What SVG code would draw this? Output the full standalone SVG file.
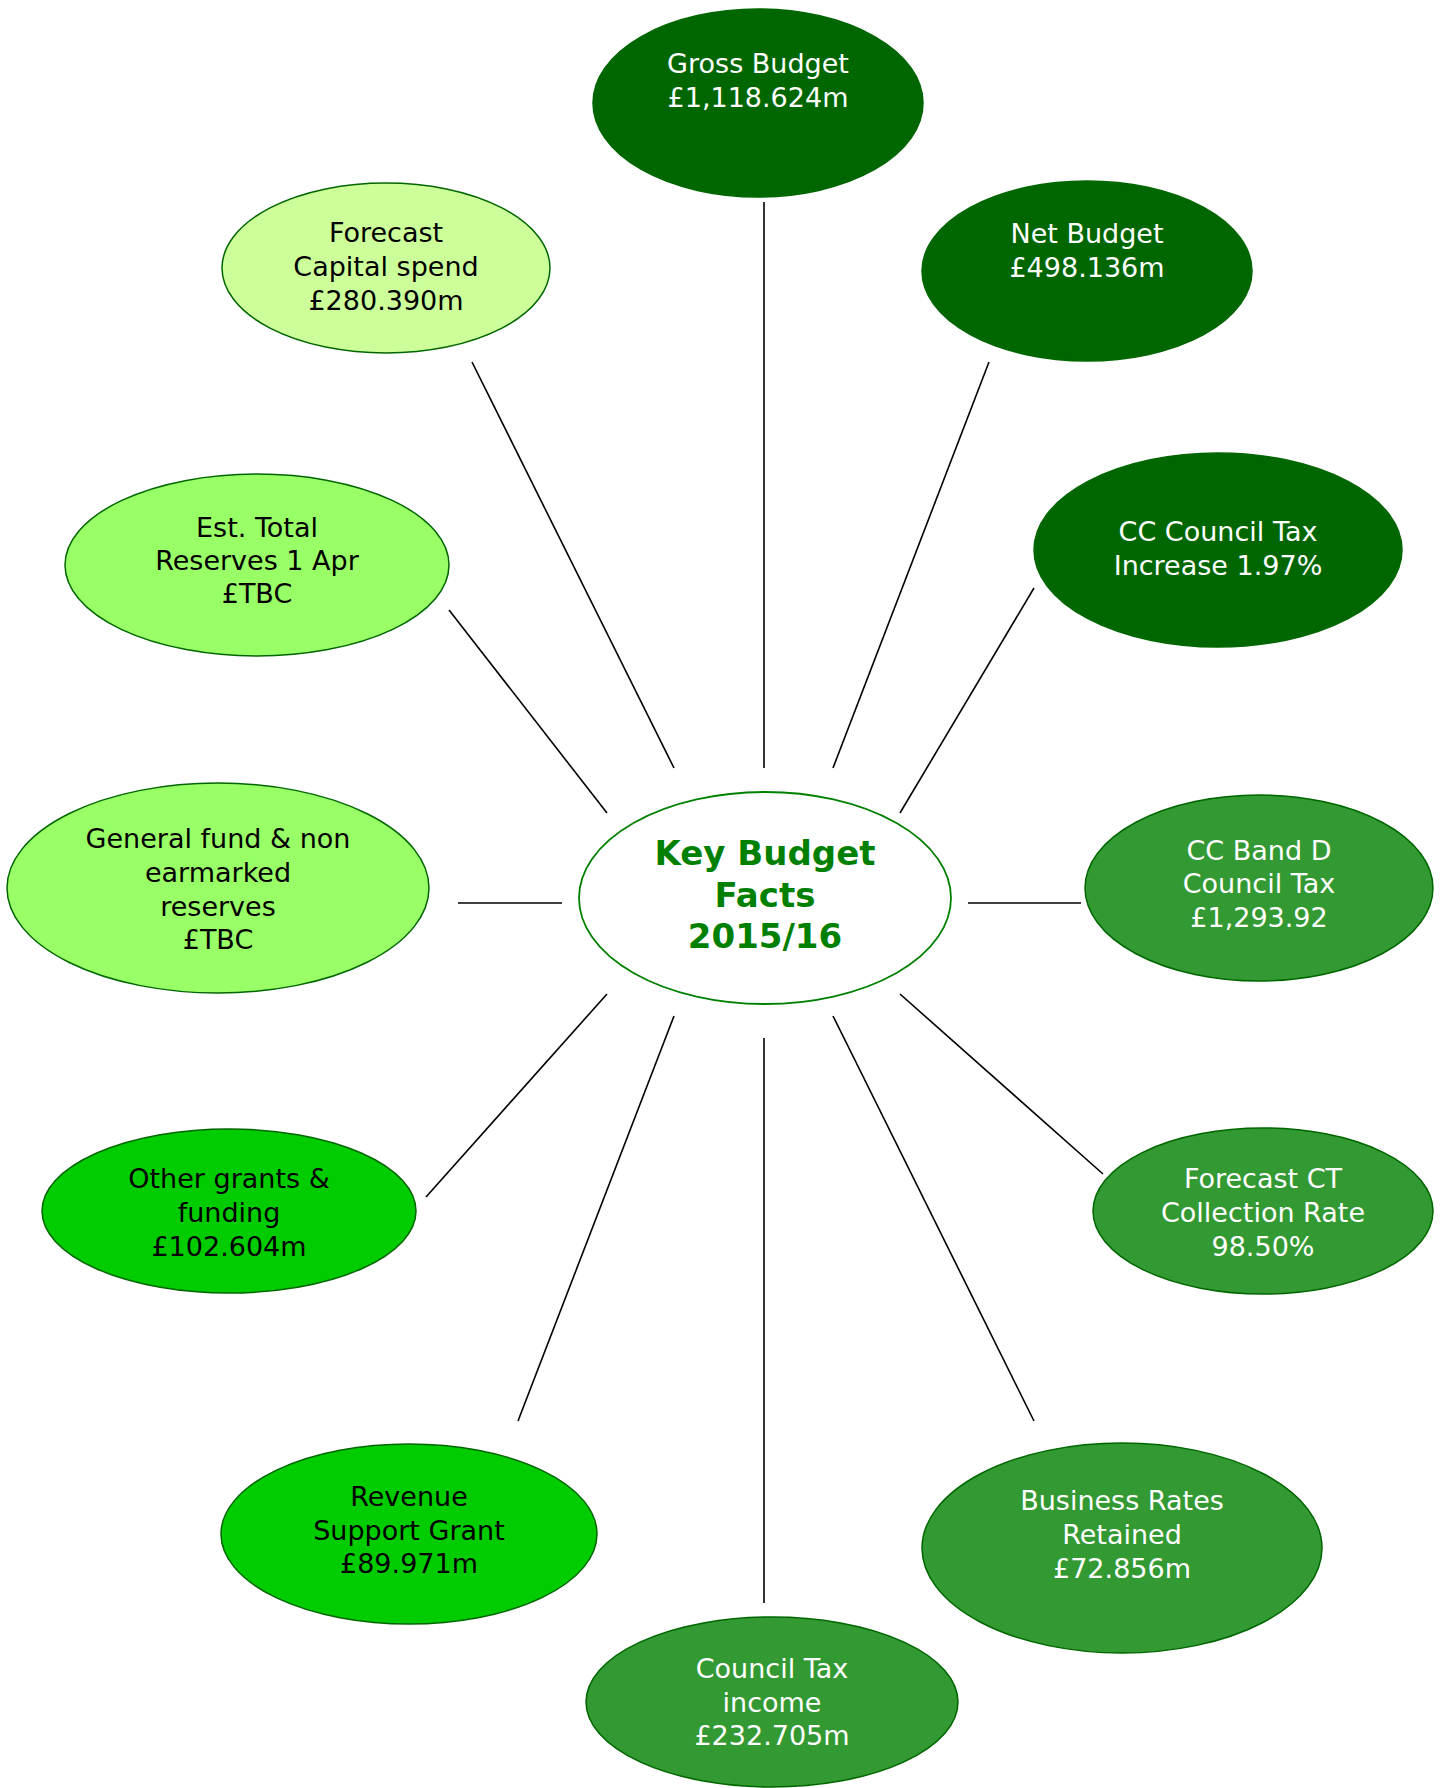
<svg xmlns="http://www.w3.org/2000/svg" width="1442" height="1788" viewBox="0 0 1442 1788">
<style>
.n{stroke:#006600;stroke-width:1.5}
.dk{fill:#006600}
.md{fill:#339933}
.lt{fill:#99FF66}
.br{fill:#00CC00}
.pl{fill:#CCFF99}
text{font-family:"DejaVu Sans","Verdana",sans-serif;font-size:27px;text-anchor:middle}
.w{fill:#ffffff}
.b{fill:#000000}
.c{fill:#008000;font-weight:bold;font-size:34px}
#connectors line{stroke:#000;stroke-width:1.6}
</style>
<rect width="1442" height="1788" fill="#ffffff"/>
<g id="connectors">
<line x1="764" y1="202" x2="764" y2="768"/>
<line x1="989" y1="362" x2="833" y2="768"/>
<line x1="1034" y1="588" x2="900" y2="813"/>
<line x1="968" y1="903" x2="1081" y2="903"/>
<line x1="900" y1="994" x2="1103" y2="1174"/>
<line x1="833" y1="1016" x2="1034" y2="1421"/>
<line x1="764" y1="1038" x2="764" y2="1603"/>
<line x1="674" y1="1016" x2="518" y2="1421"/>
<line x1="607" y1="994" x2="426" y2="1197"/>
<line x1="458" y1="903" x2="562" y2="903"/>
<line x1="607" y1="813" x2="449" y2="610"/>
<line x1="674" y1="768" x2="472" y2="362"/>
</g>
<g id="center">
<ellipse cx="765" cy="898" rx="186" ry="106" fill="#ffffff" stroke="#008000" stroke-width="1.8"/>
<text class="c" x="765" y="865">Key Budget</text>
<text class="c" x="765" y="907">Facts</text>
<text class="c" x="765" y="948">2015/16</text>
</g>
<g id="gross-budget">
<ellipse class="n dk" cx="758" cy="103" rx="165" ry="94"/>
<text class="w" x="758" y="73">Gross Budget</text>
<text class="w" x="758" y="107">£1,118.624m</text>
</g>
<g id="net-budget">
<ellipse class="n dk" cx="1087" cy="271" rx="165" ry="90"/>
<text class="w" x="1087" y="243">Net Budget</text>
<text class="w" x="1087" y="277">£498.136m</text>
</g>
<g id="cc-council-tax-increase">
<ellipse class="n dk" cx="1218" cy="550" rx="184" ry="97"/>
<text class="w" x="1218" y="541">CC Council Tax</text>
<text class="w" x="1218" y="575">Increase 1.97%</text>
</g>
<g id="cc-band-d">
<ellipse class="n md" cx="1259" cy="888" rx="174" ry="93"/>
<text class="w" x="1259" y="860">CC Band D</text>
<text class="w" x="1259" y="893">Council Tax</text>
<text class="w" x="1259" y="927">£1,293.92</text>
</g>
<g id="forecast-ct">
<ellipse class="n md" cx="1263" cy="1211" rx="170" ry="83"/>
<text class="w" x="1263" y="1188">Forecast CT</text>
<text class="w" x="1263" y="1222">Collection Rate</text>
<text class="w" x="1263" y="1256">98.50%</text>
</g>
<g id="business-rates">
<ellipse class="n md" cx="1122" cy="1548" rx="200" ry="105"/>
<text class="w" x="1122" y="1510">Business Rates</text>
<text class="w" x="1122" y="1544">Retained</text>
<text class="w" x="1122" y="1578">£72.856m</text>
</g>
<g id="council-tax-income">
<ellipse class="n md" cx="772" cy="1702" rx="186" ry="85"/>
<text class="w" x="772" y="1678">Council Tax</text>
<text class="w" x="772" y="1712">income</text>
<text class="w" x="772" y="1745">£232.705m</text>
</g>
<g id="revenue-support-grant">
<ellipse class="n br" cx="409" cy="1534" rx="188" ry="90"/>
<text class="b" x="409" y="1506">Revenue</text>
<text class="b" x="409" y="1540">Support Grant</text>
<text class="b" x="409" y="1573">£89.971m</text>
</g>
<g id="other-grants">
<ellipse class="n br" cx="229" cy="1211" rx="187" ry="82"/>
<text class="b" x="229" y="1188">Other grants &amp;</text>
<text class="b" x="229" y="1222">funding</text>
<text class="b" x="229" y="1256">£102.604m</text>
</g>
<g id="general-fund">
<ellipse class="n lt" cx="218" cy="888" rx="211" ry="105"/>
<text class="b" x="218" y="848">General fund &amp; non</text>
<text class="b" x="218" y="882">earmarked</text>
<text class="b" x="218" y="916">reserves</text>
<text class="b" x="218" y="949">£TBC</text>
</g>
<g id="est-total-reserves">
<ellipse class="n lt" cx="257" cy="565" rx="192" ry="91"/>
<text class="b" x="257" y="537">Est. Total</text>
<text class="b" x="257" y="570">Reserves 1 Apr</text>
<text class="b" x="257" y="603">£TBC</text>
</g>
<g id="forecast-capital">
<ellipse class="n pl" cx="386" cy="268" rx="164" ry="85"/>
<text class="b" x="386" y="242">Forecast</text>
<text class="b" x="386" y="276">Capital spend</text>
<text class="b" x="386" y="310">£280.390m</text>
</g>
</svg>
